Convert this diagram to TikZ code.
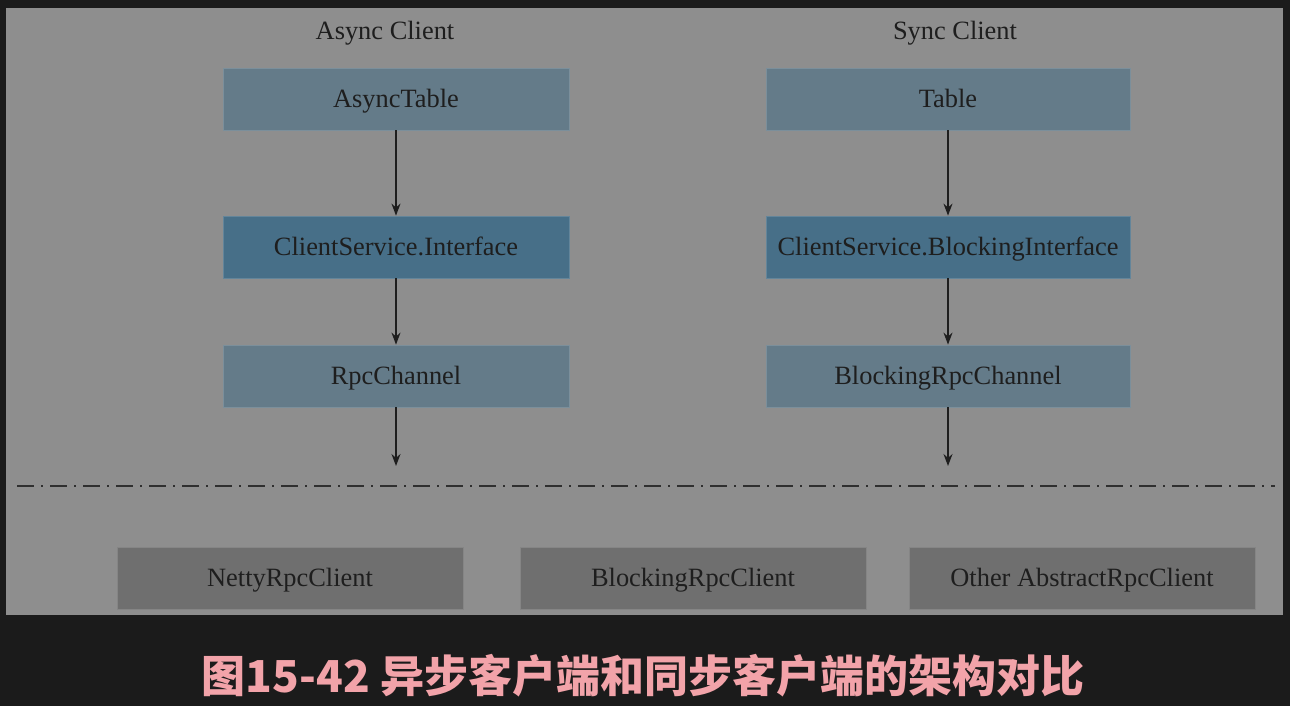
\documentclass[tikz,border=0pt]{standalone}
\usepackage{fontspec}
\setmainfont{Liberation Serif}
\newfontfamily\cjk{Noto Sans CJK SC}
\usetikzlibrary{arrows.meta}
\definecolor{framebg}{HTML}{1B1B1B}
\definecolor{panelbg}{HTML}{8E8E8E}
\definecolor{lightblue}{HTML}{647B89}
\definecolor{darkblue}{HTML}{476F88}
\definecolor{clientgray}{HTML}{6F6F6F}
\definecolor{inkgray}{HTML}{1E1E1E}
\definecolor{captionpink}{HTML}{F2A3A9}
\begin{document}
\begin{tikzpicture}[x=0.5pt, y=-0.5pt,
    box/.style={rectangle, inner sep=0pt, minimum height=31pt, text height=8.6pt, text depth=0.4pt, draw=#1!85!white, line width=0.4pt, fill=#1, text=inkgray, font=\fontsize{13.2}{16}\selectfont},
    flow/.style={-{Stealth[length=6pt,width=4.5pt]}, line width=0.7pt, inkgray},
    title/.style={text=inkgray, text height=8.6pt, text depth=0.4pt, font=\fontsize{13.2}{16}\selectfont}]
    \useasboundingbox (0,0) rectangle (1290,706);
    \fill[framebg] (0,0) rectangle (1290,706);
    \fill[panelbg] (6,8) rectangle (1283,615);

    %––––– async client –––––
    \node[title] (asynctitle) at (385,31) {Async Client};
    \node[box=lightblue, minimum width=173pt] (asynctable) at (396,99) {AsyncTable};
    \node[box=darkblue, minimum width=173pt] (asyncif) at (396,247) {ClientService.Interface};
    \node[box=lightblue, minimum width=173pt] (rpcchan) at (396,376) {RpcChannel};
    \coordinate (asyncend) at (396,466);
    \draw[flow] (asynctable) -- (asyncif);
    \draw[flow] (asyncif) -- (rpcchan);
    \draw[flow] (rpcchan) -- (asyncend);

    %––––– sync client –––––
    \node[title] (synctitle) at (955,31) {Sync Client};
    \node[box=lightblue, minimum width=182pt] (synctable) at (948,99) {Table};
    \node[box=darkblue, minimum width=182pt] (syncif) at (948,247) {ClientService.BlockingInterface};
    \node[box=lightblue, minimum width=182pt] (blockchan) at (948,376) {BlockingRpcChannel};
    \coordinate (syncend) at (948,466);
    \draw[flow] (synctable) -- (syncif);
    \draw[flow] (syncif) -- (blockchan);
    \draw[flow] (blockchan) -- (syncend);

    %––––– separator –––––
    \coordinate (sepleft) at (17,486);
    \coordinate (sepright) at (1275,486);
    \draw[inkgray!85!panelbg, line width=1.1pt, dash pattern=on 8.5pt off 3.5pt on 1pt off 3.5pt] (sepleft) -- (sepright);

    %––––– rpc clients –––––
    \node[box=clientgray, minimum width=173pt] (netty) at (290,578) {NettyRpcClient};
    \node[box=clientgray, minimum width=173pt] (blockclient) at (693,578) {BlockingRpcClient};
    \node[box=clientgray, minimum width=173pt] (otherclient) at (1082,578) {Other AbstractRpcClient};

    %––––– caption –––––
    \node[text=captionpink, font=\cjk\bfseries\fontsize{22}{26}\selectfont] (caption) at (643,676) {图15-42 异步客户端和同步客户端的架构对比};
\end{tikzpicture}
\end{document}
